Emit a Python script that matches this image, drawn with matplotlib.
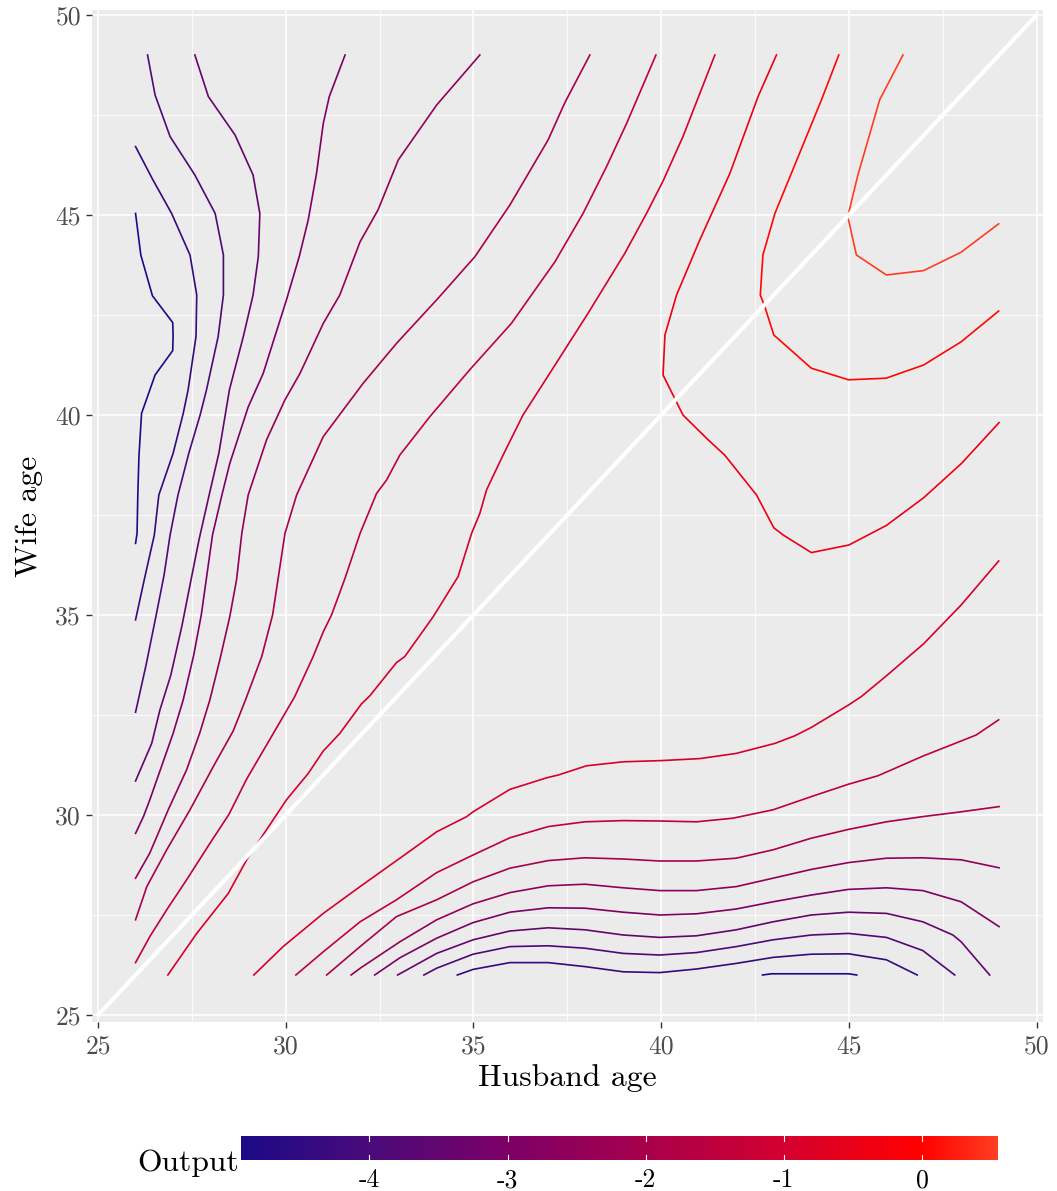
import numpy as np
import matplotlib
matplotlib.use("Agg")
import matplotlib.pyplot as plt
from matplotlib.colors import LinearSegmentedColormap, Normalize
from matplotlib.cm import ScalarMappable

plt.rcParams["font.family"] = ["cmr10", "DejaVu Serif"]
plt.rcParams["axes.unicode_minus"] = False
plt.rcParams["axes.formatter.use_mathtext"] = True

# contour levels of Output (12 evenly spaced levels)
out_min, out_max = -4.93, 0.55
levels = np.linspace(out_min, out_max, 12)

# contour paths: husband age (x), wife age (y)
l1_x = [26.0, 26.14, 26.45, 26.99, 27.0, 26.99, 26.52, 26.16, 26.09, 26.06, 26.04, 26.0]
l1_y = [45.04, 44.0, 42.98, 42.31, 41.98, 41.61, 41.0, 40.04, 38.96, 38.0, 37.04, 36.79]
b0_x = [42.7, 42.94, 44.99, 45.21]
b0_y = [26.0, 26.03, 26.03, 26.0]

l2_x = [26.0, 26.45, 26.96, 27.45, 27.63, 27.61, 27.4, 27.27, 27.0, 26.62, 26.5, 26.25, 26.0]
l2_y = [46.71, 45.9, 45.04, 44.0, 43.0, 41.96, 40.63, 40.04, 39.04, 38.0, 37.0, 35.96, 34.88]
b1_x = [34.57, 34.99, 35.97, 36.99, 37.97, 38.99, 39.96, 40.94, 42.0, 42.98, 44.0, 44.99, 46.0, 46.82]
b1_y = [26.0, 26.14, 26.31, 26.31, 26.21, 26.08, 26.06, 26.15, 26.29, 26.44, 26.52, 26.53, 26.38, 26.0]

l3_x = [26.32, 26.52, 26.92, 27.58, 28.12, 28.34, 28.34, 28.2, 27.89, 27.72, 27.42, 27.13, 26.92,
        26.76, 26.55, 26.28, 26.0]
l3_y = [49.0, 48.0, 46.96, 46.0, 45.04, 44.0, 43.0, 41.96, 40.63, 40.0, 39.05, 38.0, 37.0,
        36.0, 35.0, 33.75, 32.57]
b2_x = [33.68, 34.02, 34.99, 35.97, 36.99, 37.97, 38.99, 39.96, 40.94, 42.0, 42.98, 44.0, 44.99,
        46.0, 46.97, 47.82]
b2_y = [26.0, 26.17, 26.52, 26.71, 26.73, 26.67, 26.54, 26.5, 26.56, 26.71, 26.88, 27.0, 27.04,
        26.94, 26.61, 26.0]

l4_x = [27.58, 27.94, 28.65, 29.13, 29.31, 29.27, 29.13, 28.87, 28.5, 28.22, 27.96, 27.69, 27.45,
        27.24, 26.94, 26.65, 26.43, 26.0]
l4_y = [49.0, 47.96, 47.0, 46.0, 45.04, 43.96, 43.0, 41.96, 40.63, 39.05, 38.0, 36.88, 35.75,
        34.75, 33.5, 32.63, 31.79, 30.85]
b3_x = [32.98, 34.02, 34.99, 35.97, 36.99, 37.97, 38.99, 39.96, 40.94, 42.0, 42.98, 44.0, 44.99,
        46.0, 46.97, 47.77, 47.99, 48.75]
b3_y = [26.0, 26.54, 26.88, 27.1, 27.18, 27.13, 27.0, 26.94, 26.98, 27.13, 27.33, 27.5, 27.57,
        27.54, 27.33, 27.0, 26.83, 26.0]

t5_x = [31.58, 31.16, 31.0, 30.82, 30.6, 30.36, 30.02, 29.71, 29.4, 29.0, 28.51, 28.3, 28.05,
        27.9, 27.75, 27.55, 27.27, 27.0, 26.69, 26.38, 26.21, 26.0]
t5_y = [49.0, 47.96, 47.29, 46.04, 44.88, 43.96, 42.88, 41.96, 41.04, 40.2, 38.79, 38.0, 37.0,
        36.0, 35.0, 34.0, 32.88, 32.04, 31.21, 30.38, 29.96, 29.54]
b4_x = [32.37, 33.04, 34.02, 34.99, 35.97, 36.99, 37.97, 38.99, 39.96, 40.94, 42.0, 42.98, 44.0,
        44.99, 46.0, 46.97, 47.99, 49.0]
b4_y = [26.0, 26.43, 26.92, 27.31, 27.57, 27.68, 27.67, 27.57, 27.5, 27.53, 27.65, 27.83, 28.0,
        28.14, 28.18, 28.11, 27.83, 27.21]

t6_x = [35.17, 34.02, 33.0, 32.46, 31.98, 31.44, 31.0, 30.38, 29.98, 29.49, 29.0, 28.83, 28.69,
        28.51, 28.25, 27.98, 27.71, 27.36, 26.87, 26.38, 26.0]
t6_y = [49.0, 47.75, 46.38, 45.13, 44.33, 43.0, 42.29, 41.04, 40.38, 39.38, 38.0, 37.04, 35.88,
        34.96, 33.9, 32.88, 32.05, 31.13, 30.13, 29.05, 28.42]
b5_x = [31.74, 32.0, 33.04, 34.02, 34.99, 35.97, 36.99, 37.97, 38.99, 39.96, 40.94, 42.0, 42.98,
        44.0, 44.99, 46.0, 46.97, 47.99, 49.0]
b5_y = [26.0, 26.18, 26.83, 27.38, 27.78, 28.06, 28.23, 28.27, 28.18, 28.11, 28.11, 28.21, 28.42,
        28.64, 28.81, 28.92, 28.93, 28.88, 28.68]

t7_x = [38.1, 37.43, 36.99, 35.97, 35.04, 34.06, 32.95, 32.06, 31.0, 30.29, 29.98, 29.65, 29.36,
        28.93, 28.6, 28.07, 27.45, 26.83, 26.3, 26.0]
t7_y = [49.0, 47.8, 46.88, 45.25, 43.96, 42.92, 41.79, 40.79, 39.46, 38.0, 37.04, 35.0, 33.96,
        32.88, 32.1, 31.21, 30.13, 29.13, 28.21, 27.38]
b6_x = [31.09, 31.98, 32.95, 34.02, 34.99, 35.97, 36.99, 37.97, 38.99, 39.96, 40.94, 42.0, 42.98,
        44.0, 44.99, 46.0, 46.97, 47.99, 49.0]
b6_y = [26.0, 26.71, 27.46, 27.88, 28.33, 28.67, 28.86, 28.93, 28.9, 28.85, 28.85, 28.92, 29.13,
        29.42, 29.64, 29.83, 29.96, 30.08, 30.21]

t8_x = [39.86, 39.08, 38.54, 37.92, 37.17, 36.01, 34.9, 33.84, 33.04, 32.69, 32.42, 31.98, 31.58,
        31.22, 31.0, 30.73, 30.24, 29.98, 29.62, 28.96, 28.49, 27.98, 27.36, 26.83, 26.38, 26.0]
t8_y = [49.0, 47.29, 46.2, 45.04, 43.83, 42.29, 41.13, 39.96, 39.0, 38.38, 38.04, 37.04, 35.92,
        35.0, 34.58, 33.96, 32.96, 32.54, 31.96, 30.9, 30.02, 29.29, 28.38, 27.63, 26.96, 26.31]
b7_x = [30.27, 31.0, 31.98, 32.95, 34.02, 34.99, 35.97, 36.99, 37.97, 38.99, 39.96, 40.94, 41.91,
        42.98, 44.0, 44.99, 45.77, 46.99, 47.99, 48.39, 48.99]
b7_y = [26.0, 26.58, 27.33, 27.88, 28.56, 29.0, 29.43, 29.71, 29.83, 29.86, 29.85, 29.83, 29.92,
        30.13, 30.46, 30.77, 30.98, 31.48, 31.85, 32.0, 32.38]

t9_x = [41.43, 40.58, 40.05, 39.61, 39.03, 38.05, 37.03, 36.32, 35.79, 35.35, 35.17, 34.95, 34.59,
        33.93, 33.17, 32.95, 32.24, 32.02, 31.44, 31.0, 30.6, 30.02, 29.31, 28.96, 28.47, 27.63,
        26.86]
t9_y = [49.0, 46.96, 45.85, 45.04, 44.04, 42.54, 41.04, 40.0, 39.0, 38.13, 37.54, 37.04, 35.96,
        34.96, 33.96, 33.81, 32.98, 32.78, 32.04, 31.6, 31.04, 30.38, 29.38, 28.88, 28.04, 27.04,
        26.0]
b8_x = [29.15, 29.93, 31.0, 31.98, 33.22, 34.02, 34.82, 34.99, 35.97, 36.95, 37.26, 38.01, 38.99,
        40.0, 41.03, 42.0, 43.03, 43.56, 44.0, 44.99, 45.33, 46.0, 46.99, 47.99, 48.99]
b8_y = [26.0, 26.71, 27.54, 28.21, 29.04, 29.58, 29.96, 30.08, 30.64, 30.93, 31.0, 31.23, 31.33,
        31.36, 31.41, 31.54, 31.79, 31.98, 32.19, 32.75, 32.96, 33.48, 34.28, 35.25, 36.35]

t10_x = [43.07, 42.58, 41.83, 41.03, 40.41, 40.1, 40.05, 40.58, 41.25, 41.69, 42.54, 43.0, 43.25,
         44.0, 45.0, 45.47, 46.0, 46.99, 48.0, 49.0]
t10_y = [49.0, 47.96, 46.04, 44.38, 43.0, 42.0, 41.0, 40.0, 39.38, 39.0, 38.0, 37.18, 37.0,
         36.56, 36.75, 36.98, 37.24, 37.93, 38.79, 39.81]

t11_x = [44.73, 44.27, 43.03, 42.71, 42.64, 42.76, 43.0, 44.0, 44.99, 45.99, 46.99, 47.99, 48.99]
t11_y = [49.0, 47.88, 45.04, 44.0, 43.0, 42.71, 42.0, 41.17, 40.88, 40.92, 41.25, 41.83, 42.6]

t12_x = [46.44, 45.82, 45.24, 44.99, 44.98, 45.2, 46.0, 46.99, 47.99, 48.99]
t12_y = [49.0, 47.88, 46.0, 45.04, 44.92, 44.0, 43.5, 43.61, 44.07, 44.78]

contours = [
    (0, l1_x, l1_y), (0, b0_x, b0_y),
    (1, l2_x, l2_y), (1, b1_x, b1_y),
    (2, l3_x, l3_y), (2, b2_x, b2_y),
    (3, l4_x, l4_y), (3, b3_x, b3_y),
    (4, t5_x, t5_y), (4, b4_x, b4_y),
    (5, t6_x, t6_y), (5, b5_x, b5_y),
    (6, t7_x, t7_y), (6, b6_x, b6_y),
    (7, t8_x, t8_y), (7, b7_x, b7_y),
    (8, t9_x, t9_y), (8, b8_x, b8_y),
    (9, t10_x, t10_y),
    (10, t11_x, t11_y),
    (11, t12_x, t12_y),
]

age_ticks = [25, 30, 35, 40, 45, 50]
bar_ticks = [-4, -3, -2, -1, 0]

# colour scale: dark blue -> purple -> red at 0 -> orange-red
stops = [(-4.93, "#1b0a86"), (-4.0, "#4a0a7a"), (-3.0, "#7c0066"), (-2.0, "#a8004c"),
         (-1.0, "#d3002f"), (0.0, "#ff0000"), (0.55, "#ff3d20")]
cmap = LinearSegmentedColormap.from_list(
    "out", [((v - out_min) / (out_max - out_min), c) for v, c in stops])
norm = Normalize(out_min, out_max)

W, H = 1057, 1191
fig = plt.figure(figsize=(W / 100, H / 100), dpi=100)
ax = fig.add_axes([92 / W, 1 - 1022 / H, (1043 - 92) / W, (1022 - 10) / H])
ax.set_facecolor("#EBEBEB")
for s in ax.spines.values():
    s.set_visible(False)

ax.set_xlim(24.84, 50.17)
ax.set_ylim(24.825, 50.125)
ax.set_xticks(age_ticks)
ax.set_yticks(age_ticks)
ax.set_xticks(np.arange(27.5, 50, 5), minor=True)
ax.set_yticks(np.arange(27.5, 50, 5), minor=True)
ax.set_xticklabels([str(t) for t in age_ticks])
ax.set_yticklabels([str(t) for t in age_ticks])
ax.grid(which="major", color="white", linewidth=1.1)
ax.grid(which="minor", color="white", linewidth=0.55)
ax.set_axisbelow(True)
ax.tick_params(which="major", length=4, width=1.0, color="#333333",
               labelsize=18.5, labelcolor="#4D4D4D", pad=4)
ax.tick_params(axis="x", which="major", pad=5)
ax.tick_params(which="minor", length=0)

for k, xs, ys in contours:
    ax.plot(xs, ys, color=cmap(norm(levels[k])), linewidth=1.2, zorder=3,
            solid_joinstyle="round")

ax.plot([25, 50], [25, 50], color="white", linewidth=3.0, zorder=4)

ax.set_xlabel("Husband age", fontsize=22.8, color="black", labelpad=4)
ax.set_ylabel("Wife age", fontsize=22.8, color="black", labelpad=9)

# colour bar legend
cax = fig.add_axes([241 / W, 1 - 1160 / H, (998 - 241) / W, 24 / H])
cb = fig.colorbar(ScalarMappable(norm=norm, cmap=cmap), cax=cax, orientation="horizontal")
cb.outline.set_visible(False)
cb.set_ticks(bar_ticks)
cb.set_ticklabels([str(t) for t in bar_ticks])
cax.tick_params(length=0, labelsize=18.5, labelcolor="black", pad=6)
for t in bar_ticks:
    cax.plot([t, t], [0, 0.2], color="white", linewidth=0.8)
    cax.plot([t, t], [0.8, 1], color="white", linewidth=0.8)
cax.set_ylim(0, 1)
fig.text(137 / W, 1 - 1163 / H, "Output", fontsize=22.8, va="center", ha="left")

fig.savefig("out.png", dpi=100)
